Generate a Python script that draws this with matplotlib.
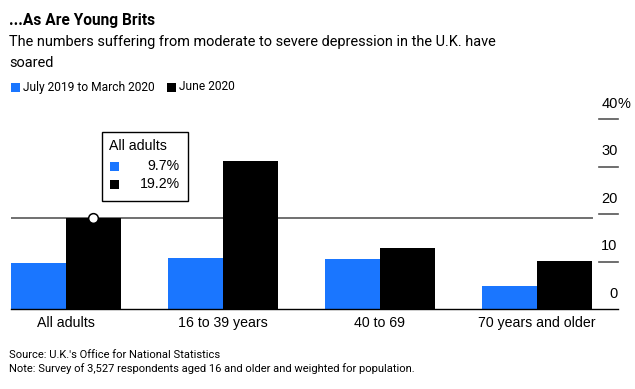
import matplotlib
matplotlib.use("Agg")
import matplotlib.pyplot as plt
import matplotlib.transforms as mtransforms
from matplotlib.patches import Rectangle
import numpy as np

plt.rcParams['font.family'] = ['Liberation Sans', 'DejaVu Sans']
NARROW = ['Roboto', 'Liberation Sans', 'DejaVu Sans']

categories = ["All adults", "16 to 39 years", "40 to 69", "70 years and older"]
before = [9.7, 10.8, 10.5, 5.0]
june = [19.2, 31.1, 12.9, 10.2]
series_names = ["July 2019 to March 2020", "June 2020"]
yticks = [0, 10, 20, 30, 40]
ytick_labels = ["0", "10", "20", "30", "40%"]
ref_value = 19.2

BLUE = "#1a76ff"
BLACK = "#000000"

W, H = 635, 389
fig = plt.figure(figsize=(W / 100, H / 100), dpi=100)
renderer = fig.canvas.get_renderer()

def fx(px):
    return px / W

def fy(py):
    return 1 - py / H

def ntext(xp, yp, s, target_w, size=10, **kw):
    t = fig.text(fx(xp), fy(yp), s, fontsize=size, family=NARROW, va="center", ha="left", **kw)
    wpx = t.get_window_extent(renderer).width
    t.set_fontsize(size * target_w / wpx)
    return t

ax_l, ax_r, ax_t, ax_b = 11, 617.7, 119, 309.3
ax = fig.add_axes([fx(ax_l), fy(ax_b), fx(ax_r - ax_l), (ax_b - ax_t) / H])
ax.set_xlim(-0.35, 3.514)
ax.set_ylim(0, 40)

x = np.arange(len(categories))
w = 0.348
ax.bar(x - w / 2, before, width=w, color=BLUE, zorder=2)
ax.bar(x + w / 2, june, width=w, color=BLACK, zorder=2)

# reference line for All adults
ax.plot([-0.35, 3.35], [ref_value, ref_value], color="#707070", lw=1.4, zorder=1)
ax.plot([0 + w / 2], [ref_value], marker="o", ms=7, mfc="white", mec="black", mew=1.1, zorder=4, clip_on=False)

for s in ["left", "right", "top"]:
    ax.spines[s].set_visible(False)
ax.spines["bottom"].set_color("#000000")
ax.spines["bottom"].set_linewidth(1.0)
ax.set_yticks([])
ax.set_xticks(x)
ax.set_xticklabels(categories, fontsize=10.2)
ax.tick_params(axis="x", length=0, pad=5)

# right-side tick marks and labels
xmin_frac = (599 - ax_l) / (ax_r - ax_l)
trans = mtransforms.blended_transform_factory(ax.transAxes, ax.transData)
off = trans + mtransforms.ScaledTranslation(0, 6 / 72, fig.dpi_scale_trans)
for yv, lab in zip(yticks, ytick_labels):
    if yv > 0:
        ax.axhline(yv, xmin=xmin_frac, xmax=1, color="#555555", lw=1.2, clip_on=False)
    if lab.endswith("%"):
        ax.text(1, yv, lab[:-1], transform=off, ha="right", va="bottom", fontsize=10.5, clip_on=False)
        ax.text(1, yv, "%", transform=off, ha="left", va="bottom", fontsize=10.5, clip_on=False)
    else:
        ax.text(1, yv, lab, transform=off, ha="right", va="bottom", fontsize=10.5, clip_on=False)

# annotation box
fig.patches.append(Rectangle((fx(101.7), fy(201)), fx(86), (201 - 131.7) / H, transform=fig.transFigure,
                             fill=False, edgecolor="black", lw=1.0))
fig.text(fx(109), fy(146), "All adults", fontsize=10.2, va="center", ha="left")
fig.patches.append(Rectangle((fx(110), fy(171)), fx(9), 9 / H, transform=fig.transFigure,
                             facecolor=BLUE, edgecolor="none"))
fig.patches.append(Rectangle((fx(110), fy(189)), fx(9), 9 / H, transform=fig.transFigure,
                             facecolor=BLACK, edgecolor="none"))
fig.text(fx(180), fy(166.5), f"{before[0]}%", fontsize=10.2, va="center", ha="right")
fig.text(fx(180), fy(184.5), f"{june[0]}%", fontsize=10.2, va="center", ha="right")

# titles
ntext(9, 20, "...As Are Young Brits", 146, fontweight="bold")
sub = ntext(9, 42, "The numbers suffering from moderate to severe depression in the U.K. have", 488)
fig.text(fx(9), fy(63), "soared", fontsize=sub.get_fontsize(), family=NARROW, va="center", ha="left")

# legend
fig.patches.append(Rectangle((fx(11), fy(91.5)), fx(8.5), 9 / H, transform=fig.transFigure,
                             facecolor=BLUE, edgecolor="none"))
lg = ntext(23, 87, series_names[0], 132)
fig.patches.append(Rectangle((fx(167), fy(91.5)), fx(8.5), 9 / H, transform=fig.transFigure,
                             facecolor=BLACK, edgecolor="none"))
fig.text(fx(179), fy(87), series_names[1], fontsize=lg.get_fontsize(), family=NARROW, va="center", ha="left")

# footer
note = ntext(9, 369, "Note: Survey of 3,527 respondents aged 16 and older and weighted for population.", 406)
fig.text(fx(9), fy(355), "Source: U.K.'s Office for National Statistics", fontsize=note.get_fontsize(),
         family=NARROW, va="center", ha="left")

fig.savefig("out.png", dpi=100)
